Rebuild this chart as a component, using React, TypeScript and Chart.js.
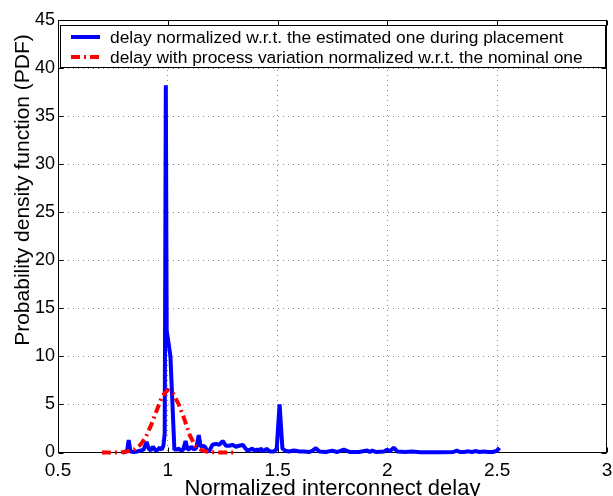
import React, { useEffect, useRef } from 'react';
import { Chart, registerables } from 'chart.js';

Chart.register(...registerables);

// ---- data ----
const X_TICKS = [0.5, 1, 1.5, 2, 2.5, 3];
const X_TICK_LABELS = ['0.5', '1', '1.5', '2', '2.5', '3'];
const Y_TICKS = [0, 5, 10, 15, 20, 25, 30, 35, 40, 45];
const Y_TICK_LABELS = ['0', '5', '10', '15', '20', '25', '30', '35', '40', '45'];

const SERIES_LABELS = [
  'delay normalized w.r.t. the estimated one during placement',
  'delay with process variation normalized w.r.t. the nominal one',
];
const X_TITLE = 'Normalized interconnect delay';
const Y_TITLE = 'Probability density function (PDF)';

// delay normalized w.r.t. the estimated one during placement
const placementX = [
  0.795, 0.805, 0.815, 0.822, 0.83, 0.845, 0.86, 0.875, 0.89, 0.903, 0.913, 0.922, 0.932, 0.945,
  0.955, 0.963, 0.972, 0.98, 0.986, 0.991, 0.995, 1.012, 1.03, 1.04, 1.05, 1.06, 1.07, 1.081,
  1.09, 1.1, 1.107, 1.12, 1.13, 1.141, 1.15, 1.16, 1.17, 1.18, 1.19, 1.203, 1.22, 1.235, 1.25,
  1.265, 1.28, 1.294, 1.31, 1.325, 1.341, 1.355, 1.362, 1.375, 1.385, 1.395, 1.407, 1.415, 1.424,
  1.435, 1.45, 1.465, 1.484, 1.496, 1.509, 1.522, 1.535, 1.55, 1.575, 1.6, 1.62, 1.645, 1.66,
  1.674, 1.69, 1.72, 1.749, 1.77, 1.802, 1.83, 1.87, 1.908, 1.92, 1.931, 1.95, 1.985, 1.999,
  2.01, 2.029, 2.045, 2.08, 2.112, 2.15, 2.2, 2.25, 2.3, 2.316, 2.33, 2.35, 2.369, 2.385, 2.4,
  2.42, 2.437, 2.46, 2.48, 2.5, 2.51,
];
const placementY = [
  0.0, 0.05, 0.2, 1.3, 0.1, 0.05, 0.1, 0.2, 0.3, 1.1, 0.4, 0.2, 0.6, 0.2,
  0.3, 0.5, 0.3, 0.7, 2.0, 38.2, 12.7, 10.0, 0.3, 0.3, 0.4, 0.2, 0.3, 1.2,
  0.3, 0.4, 0.6, 0.3, 0.5, 1.8, 0.6, 0.7, 0.6, 0.1, 0.2, 0.8, 0.9, 0.8, 1.2,
  0.7, 0.7, 0.8, 0.6, 0.7, 0.8, 0.4, 0.2, 0.3, 0.4, 0.2, 0.3, 0.2, 0.4,
  0.1, 0.4, 0.1, 0.1, 0.4, 5.0, 0.4, 0.2, 0.1, 0.2, 0.1, 0.1, 0.05, 0.2,
  0.45, 0.1, 0.05, 0.2, 0.05, 0.3, 0.05, 0.05, 0.2, 0.05, 0.2, 0.05, 0.1, 0.3,
  0.1, 0.5, 0.1, 0.05, 0.1, 0.02, 0.02, 0.02, 0.05, 0.2, 0.05, 0.05, 0.12, 0.05, 0.15,
  0.05, 0.1, 0.05, 0.05, 0.2, 0.5,
];

// delay with process variation normalized w.r.t. the nominal one
const variationX = [
  0.7, 0.725, 0.75, 0.775, 0.8, 0.825, 0.85, 0.875, 0.9, 0.925, 0.95, 0.975, 1.0, 1.025,
  1.05, 1.075, 1.1, 1.125, 1.15, 1.175, 1.2, 1.225, 1.25, 1.275, 1.3,
];
const variationY = [
  0.0, 0.0, 0.0, 0.0, 0.05, 0.15, 0.35, 0.8, 1.6, 2.9, 4.4, 5.9, 6.5, 6.1,
  5.0, 3.5, 1.8, 0.7, 0.3, 0.1, 0.03, 0.0, 0.0, 0.0, 0.0,
];

const BLUE = '#0000ff';
const RED = '#ff0000';
const RED_DASH = [9, 4, 2, 4];
const FONT = '"Liberation Sans", Arial, Helvetica, sans-serif';

const decorPlugin = {
  id: 'matlabDecor',
  beforeDatasetsDraw(chart: any) {
    const { ctx, chartArea: a, scales } = chart;
    const L = Math.round(a.left) + 0.5;
    const R = Math.round(a.right) - 0.5;
    const T = Math.round(a.top) + 0.5;
    const B = Math.round(a.bottom) - 0.5;
    ctx.save();
    ctx.strokeStyle = '#000';
    ctx.lineWidth = 1;
    ctx.setLineDash([]);
    const tl = 5;
    ctx.beginPath();
    X_TICKS.forEach((v) => {
      const x = Math.round(scales.x.getPixelForValue(v)) + 0.5;
      ctx.moveTo(x, B);
      ctx.lineTo(x, B - tl);
      ctx.moveTo(x, T);
      ctx.lineTo(x, T + tl);
    });
    Y_TICKS.forEach((v) => {
      const y = Math.round(scales.y.getPixelForValue(v)) + 0.5;
      ctx.moveTo(L, y);
      ctx.lineTo(L + tl, y);
      ctx.moveTo(R, y);
      ctx.lineTo(R - tl, y);
    });
    ctx.stroke();
    ctx.strokeRect(L, T, R - L, B - T);
    ctx.restore();
  },
  afterDraw(chart: any) {
    const { ctx, chartArea: a } = chart;
    ctx.save();
    // legend box
    const bx = Math.round(a.left) + 2.5;
    const by = 25.5;
    const bw = Math.round(a.right) - Math.round(a.left) - 4;
    const bh = 42;
    ctx.fillStyle = '#fff';
    ctx.fillRect(bx, by, bw, bh);
    ctx.strokeStyle = '#000';
    ctx.lineWidth = 1;
    ctx.setLineDash([]);
    ctx.strokeRect(bx, by, bw, bh);

    const rows = [37, 57];
    const colors = [BLUE, RED];
    const widths = [4, 4];
    const dashes = [[], RED_DASH];
    rows.forEach((y, i) => {
      ctx.beginPath();
      ctx.strokeStyle = colors[i];
      ctx.lineWidth = widths[i];
      ctx.setLineDash(dashes[i]);
      ctx.moveTo(71, y);
      ctx.lineTo(100, y);
      ctx.stroke();
      ctx.setLineDash([]);
      ctx.fillStyle = '#000';
      ctx.font = `17.4px ${FONT}`;
      ctx.textAlign = 'left';
      ctx.textBaseline = 'middle';
      ctx.fillText(SERIES_LABELS[i], 110, y + 1);
    });

    // axis titles
    ctx.fillStyle = '#000';
    ctx.font = `22px ${FONT}`;
    ctx.textAlign = 'center';
    ctx.textBaseline = 'alphabetic';
    ctx.fillText(X_TITLE, (a.left + a.right) / 2, 495);

    ctx.translate(29, 190);
    ctx.rotate(-Math.PI / 2);
    ctx.font = `21px ${FONT}`;
    ctx.fillText(Y_TITLE, 0, 0);
    ctx.restore();
  },
};

export default function App() {
  const canvasRef = useRef<HTMLCanvasElement | null>(null);

  useEffect(() => {
    document.body.style.margin = '0';
    const canvas = canvasRef.current;
    if (!canvas) return;

    const gridColor = (edgeValues: number[]) => (c: any) =>
      c.tick && edgeValues.includes(c.tick.value) ? 'rgba(0,0,0,0)' : '#8a8a8a';

    const chart = new Chart(canvas, {
      type: 'line',
      data: {
        datasets: [
          {
            label: SERIES_LABELS[0],
            data: placementX.map((x, i) => ({ x, y: placementY[i] })),
            borderColor: BLUE,
            backgroundColor: BLUE,
            borderWidth: 4,
            pointRadius: 0,
            tension: 0,
            borderJoinStyle: 'bevel',
            clip: false,
            order: 2,
          } as any,
          {
            label: SERIES_LABELS[1],
            data: variationX.map((x, i) => ({ x, y: variationY[i] })),
            borderColor: RED,
            backgroundColor: RED,
            borderWidth: 4,
            borderDash: RED_DASH,
            pointRadius: 0,
            tension: 0,
            clip: false,
            order: 1,
          } as any,
        ],
      },
      options: {
        animation: false,
        responsive: false,
        maintainAspectRatio: false,
        events: [],
        layout: { padding: { top: 20, right: 6, bottom: 0, left: 0 } },
        plugins: {
          legend: { display: false },
          tooltip: { enabled: false },
          title: { display: false },
        },
        scales: {
          x: {
            type: 'linear',
            min: 0.5,
            max: 3,
            afterBuildTicks: (s: any) => {
              s.ticks = X_TICKS.map((v) => ({ value: v }));
            },
            afterFit: (s: any) => {
              s.height = 43.5;
              s.paddingLeft = 0;
              s.paddingRight = 0;
            },
            ticks: {
              autoSkip: false,
              maxRotation: 0,
              padding: 7,
              color: '#000',
              font: { family: FONT, size: 19 },
              callback: (v: any) => X_TICK_LABELS[X_TICKS.indexOf(Number(v))] ?? '',
            },
            grid: {
              drawTicks: false,
              tickLength: 0,
              lineWidth: 1,
              color: gridColor([0.5, 3]),
            },
            border: { display: false, dash: [1, 4] },
          },
          y: {
            type: 'linear',
            min: 0,
            max: 45,
            afterBuildTicks: (s: any) => {
              s.ticks = Y_TICKS.map((v) => ({ value: v }));
            },
            afterFit: (s: any) => {
              s.width = 58;
              s.paddingTop = 0;
              s.paddingBottom = 0;
            },
            ticks: {
              autoSkip: false,
              padding: 3,
              color: '#000',
              font: { family: FONT, size: 18 },
              callback: (v: any) => Y_TICK_LABELS[Y_TICKS.indexOf(Number(v))] ?? '',
            },
            grid: {
              drawTicks: false,
              tickLength: 0,
              lineWidth: 1,
              color: gridColor([0, 45]),
            },
            border: { display: false, dash: [1, 4] },
          },
        },
      } as any,
      plugins: [decorPlugin],
    });

    return () => chart.destroy();
  }, []);

  return (
    <div style={{ width: 613, height: 496 }}>
      <canvas ref={canvasRef} width={613} height={496} style={{ display: 'block', width: 613, height: 496 }} />
    </div>
  );
}
